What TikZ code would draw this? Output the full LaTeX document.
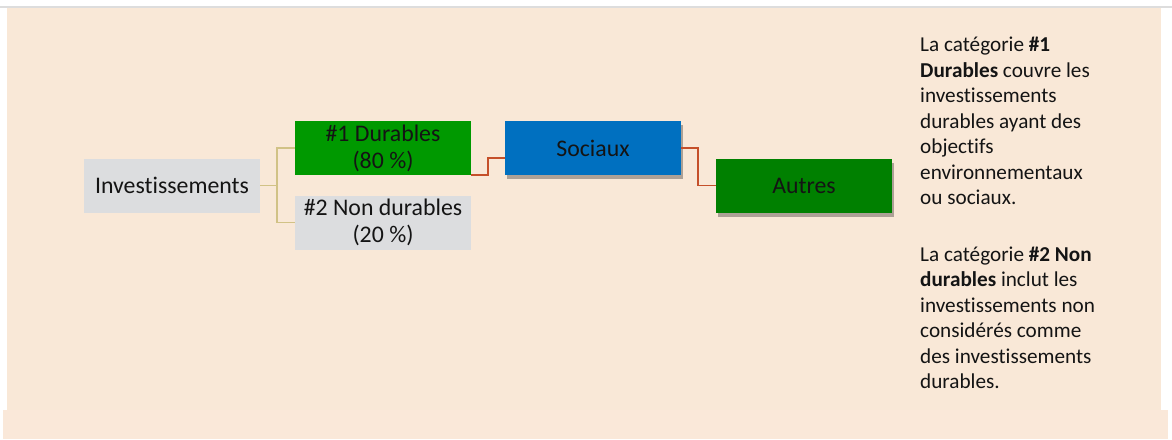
\documentclass[tikz,border=0pt]{standalone}
\usepackage{fontspec}
\setmainfont{Carlito}[Ligatures={NoCommon}]
\usetikzlibrary{shadows}
\definecolor{panel}{HTML}{F9E8D7}
\definecolor{band}{HTML}{FAE8D9}
\definecolor{topline}{HTML}{DDDDDD}
\definecolor{boxgray}{HTML}{DCDDDF}
\definecolor{green1}{HTML}{009900}
\definecolor{green2}{HTML}{008000}
\definecolor{blue1}{HTML}{0070C0}
\definecolor{tanline}{HTML}{D1C286}
\definecolor{redline}{HTML}{C5502A}
\definecolor{txt}{HTML}{141414}
\tikzset{
  box/.style={minimum width=176pt, minimum height=54pt, inner sep=0pt, align=center,
    text=txt, font=\fontsize{23.8}{27}\selectfont},
  shadowed/.style={drop shadow={shadow xshift=2pt, shadow yshift=-4pt, opacity=0.3, fill=black}},
  tanconn/.style={draw=tanline, line width=1.5pt},
  redconn/.style={draw=redline, line width=1.5pt},
  note/.style={anchor=north west, inner sep=0pt, align=left, text=txt,
    font=\fontsize{21.2}{25.5}\selectfont}
}
\begin{document}
\begin{tikzpicture}[x=1pt,y=-1pt]
\useasboundingbox (0,0) rectangle (1172,439);
\fill[white] (0,0) rectangle (1172,439);
\fill[panel] (7,8) rectangle (1161,410);
\fill[band] (3,410) rectangle (1168,439);
\fill[topline] (0,6) rectangle (1172,8);

\node[box, fill=boxgray] (inv) at (172,185.5) {Investissements};
\node[box, fill=green1] (dur) at (383,148) {\#1 Durables\\(80~\%)};
\node[box, fill=boxgray] (ndur) at (383,222.5) {\#2 Non durables\\(20~\%)};
\node[box, fill=blue1, shadowed] (soc) at (593,148) {Sociaux};
\node[box, fill=green2, shadowed] (aut) at (804,185.5) {Autres};

\coordinate (j1) at (277,185.5);
\draw[tanconn] (inv.east) -- (j1) |- (dur.west);
\draw[tanconn] (j1) |- (ndur.west);
\draw[redconn] (dur.south east) -- ++(17,0) |- ([yshift=-10pt]soc.west);
\draw[redconn] (soc.east) -- ++(17,0) |- (aut.west);

\node[note] (n1) at (920,37) {La catégorie \textbf{\#1}\\\textbf{Durables} couvre les\\investissements\\durables ayant des\\objectifs\\environnementaux\\ou sociaux.};
\node[note] (n2) at (920,246.5) {La catégorie \textbf{\#2 Non}\\\textbf{durables} inclut les\\investissements non\\considérés comme\\des investissements\\durables.};
\end{tikzpicture}
\end{document}
